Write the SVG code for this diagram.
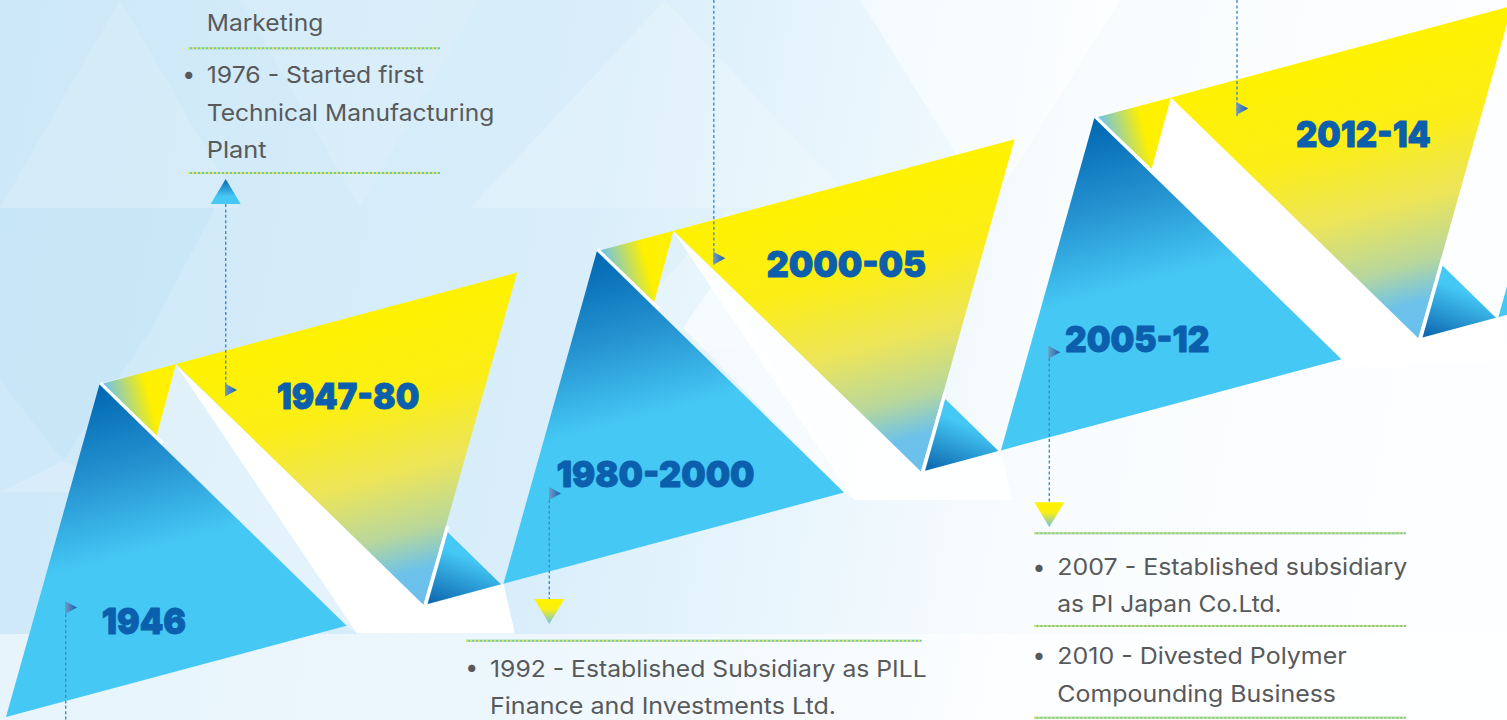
<svg xmlns="http://www.w3.org/2000/svg" width="1507" height="720" viewBox="0 0 1507 720">
<style>
.lbl{font-family:Inter,"Liberation Sans",sans-serif;font-weight:900;font-size:36px;fill:#0b5fad;stroke:#0b5fad;stroke-width:0.9;stroke-linejoin:round}
.txt{font-family:Inter,"Open Sans","Liberation Sans",sans-serif;font-size:23px;fill:#58595b}
.dash{stroke:#3b8bd2;stroke-width:1.4;stroke-dasharray:3 2.4;fill:none}
.dotb{stroke:#5ac4f0;stroke-width:2;fill:none}
.doty{stroke:#f6e61a;stroke-width:2;stroke-dasharray:2 2;fill:none}
.gap{stroke:#ffffff;stroke-width:3.4;fill:none}
.blue{fill:url(#gBlue)}
.yel{fill:url(#gYellow)}
.pp{fill:url(#gP)}
.ss{fill:url(#gS)}
.flag{fill:url(#gFlag)}
</style>
<defs>
  <linearGradient id="bg" x1="0" y1="0" x2="1507" y2="260" gradientUnits="userSpaceOnUse">
    <stop offset="0" stop-color="#cde8f8"/>
    <stop offset="0.4" stop-color="#d9eefa"/>
    <stop offset="0.6" stop-color="#ecf7fd"/>
    <stop offset="0.72" stop-color="#f9fcfe"/>
    <stop offset="1" stop-color="#fdfeff"/>
  </linearGradient>
  <linearGradient id="gBlue" x1="0" y1="0" x2="0" y2="1">
    <stop offset="0" stop-color="#0066b1"/>
    <stop offset="0.3" stop-color="#2592d0"/>
    <stop offset="0.58" stop-color="#45c8f4"/>
    <stop offset="1" stop-color="#45c8f4"/>
  </linearGradient>
  <linearGradient id="gYellow" x1="0" y1="0" x2="0" y2="1">
    <stop offset="0" stop-color="#fff200"/>
    <stop offset="0.3" stop-color="#fcee16"/>
    <stop offset="0.55" stop-color="#ece55a"/>
    <stop offset="0.75" stop-color="#b8d79c"/>
    <stop offset="0.88" stop-color="#6cc2ea"/>
    <stop offset="1" stop-color="#6ac0ec"/>
  </linearGradient>
  <linearGradient id="gP" x1="0" y1="0" x2="1" y2="0">
    <stop offset="0" stop-color="#6cc3ec"/>
    <stop offset="0.55" stop-color="#fff000"/>
    <stop offset="1" stop-color="#fff200"/>
  </linearGradient>
  <linearGradient id="gS" x1="0" y1="1" x2="0.55" y2="0.35">
    <stop offset="0" stop-color="#0a63ad"/>
    <stop offset="1" stop-color="#45c8f4"/>
  </linearGradient>
  <linearGradient id="gFlag" x1="0" y1="0" x2="1" y2="0">
    <stop offset="0" stop-color="#6f9cc8"/>
    <stop offset="1" stop-color="#1a5ea9"/>
  </linearGradient>
  <linearGradient id="gUp" x1="0" y1="0" x2="0" y2="1">
    <stop offset="0" stop-color="#0a66b1"/>
    <stop offset="0.7" stop-color="#45c8f4"/>
    <stop offset="1" stop-color="#45c8f4"/>
  </linearGradient>
  <linearGradient id="gDown" x1="0" y1="0" x2="0" y2="1">
    <stop offset="0" stop-color="#fff200"/>
    <stop offset="0.4" stop-color="#fbef10"/>
    <stop offset="1" stop-color="#6cc3ec"/>
  </linearGradient>
</defs>

<g id="background">
  <rect x="0" y="0" width="1507" height="720" fill="url(#bg)"/>
  <polygon points="0,208 240,208 120,0" fill="#ffffff" fill-opacity="0.12"/>
  <polygon points="240,0 480,0 360,208" fill="#ffffff" fill-opacity="0.1"/>
  <polygon points="0,208 215,208 152,328 63,461 0,380" fill="#bde1f6" fill-opacity="0.35"/>
  <polygon points="0,492 63,461 130,492" fill="#ffffff" fill-opacity="0.2"/>
  <polygon points="470,208 860,208 665,0" fill="#ffffff" fill-opacity="0.18"/>
  <polygon points="860,0 1120,0 990,208" fill="#ffffff" fill-opacity="0.5"/>
  <polygon points="600,350 860,350 730,208" fill="#ffffff" fill-opacity="0.22"/>
  <rect x="0" y="634" width="1507" height="86" fill="#ffffff" fill-opacity="0.5"/>
  <polygon points="100,383 176,365 357,633.5 346.7,626" fill="#ffffff" fill-opacity="0.35"/>
  <polygon points="176,365 357,633.5 515,633.5 503.5,583.7 426,605" fill="#ffffff"/>
  <polygon points="683,328 718,276.7 854.5,500 843,492" fill="#ffffff" fill-opacity="0.6"/>
  <polygon points="673.5,231.7 854.5,500 1012,500 1000.9,450.4 923.5,471.7" fill="#ffffff" fill-opacity="0.9"/>
  <g transform="translate(1000.9,450.42) rotate(-15)">
    <polygon fill="#ffffff" points="176.3,-297 255.6,-297 432.4,0 515,0 515,45 352.6,8 352.6,0"/>
  </g>
</g>

<g id="node-1946">
  <g transform="translate(6,717) rotate(-15)">
    <polygon class="blue" points="0,0 352.6,0 176.3,-297"/>
    <line class="gap" x1="178" y1="-298.5" x2="222" y2="-224"/>
  </g>
  <text class="lbl" x="101.7" y="634.3" textLength="84.3" lengthAdjust="spacingAndGlyphs">1946</text>
</g>

<g id="node-1947-80">
  <g transform="translate(6,717) rotate(-15)">
    <polygon class="pp" points="180,-297 255.6,-297 218.5,-233"/>
    <polygon class="yel" points="255.6,-297 608.8,-297 432.4,0"/>
    <line class="gap" x1="433.4" y1="1" x2="476" y2="-70"/>
    <polygon class="ss" points="436.5,0 512.5,0 474.5,-64"/>
  </g>
  <text class="lbl" x="276.7" y="409.3" textLength="142.6" lengthAdjust="spacingAndGlyphs">1947-80</text>
</g>

<g id="node-1980-2000">
  <g transform="translate(503.45,583.71) rotate(-15)">
    <polygon class="blue" points="0,0 352.6,0 176.3,-297"/>
    <line class="gap" x1="178" y1="-298.5" x2="222" y2="-224"/>
  </g>
  <text class="lbl" x="556.4" y="487.3" textLength="198.2" lengthAdjust="spacingAndGlyphs">1980-2000</text>
</g>

<g id="node-2000-05">
  <g transform="translate(503.45,583.71) rotate(-15)">
    <polygon class="pp" points="180,-297 255.6,-297 218.5,-233"/>
    <polygon class="yel" points="255.6,-297 608.8,-297 432.4,0"/>
    <line class="gap" x1="433.4" y1="1" x2="476" y2="-70"/>
    <polygon class="ss" points="436.5,0 512.5,0 474.5,-64"/>
  </g>
  <text class="lbl" x="766.4" y="276.7" textLength="159.7" lengthAdjust="spacingAndGlyphs">2000-05</text>
</g>

<g id="node-2005-12">
  <g transform="translate(1000.9,450.42) rotate(-15)">
    <polygon class="blue" points="0,0 352.6,0 176.3,-297"/>
    <line class="gap" x1="178" y1="-298.5" x2="222" y2="-224"/>
  </g>
  <text class="lbl" x="1065" y="352.3" textLength="144.3" lengthAdjust="spacingAndGlyphs">2005-12</text>
</g>

<g id="node-2012-14">
  <g transform="translate(1000.9,450.42) rotate(-15)">
    <polygon class="pp" points="180,-297 255.6,-297 218.5,-233"/>
    <polygon class="yel" points="255.6,-297 608.8,-297 432.4,0"/>
    <line class="gap" x1="433.4" y1="1" x2="476" y2="-70"/>
    <polygon class="ss" points="436.5,0 512.5,0 474.5,-64"/>
  </g>
  <text class="lbl" x="1296" y="146.7" textLength="134.7" lengthAdjust="spacingAndGlyphs">2012-14</text>
</g>

<g id="node-next">
  <g transform="translate(1498.35,317.13) rotate(-15)">
    <polygon class="blue" points="0,0 352.6,0 176.3,-297"/>
  </g>
</g>

<g id="connectors">
  <line class="dash" x1="65.7" y1="614" x2="65.7" y2="720"/>
  <line class="dash" x1="225.7" y1="204" x2="225.7" y2="397"/>
  <line class="dash" x1="549.3" y1="500" x2="549.3" y2="599"/>
  <line class="dash" x1="713.8" y1="0" x2="713.8" y2="265"/>
  <line class="dash" x1="1049.3" y1="358" x2="1049.3" y2="502"/>
  <line class="dash" x1="1237" y1="0" x2="1237" y2="116"/>
  <polygon class="flag" points="65,601 77,607.5 65,614"/>
  <polygon class="flag" points="225,383.5 237,390 225,396.5"/>
  <polygon class="flag" points="549,487 561,493.5 549,500"/>
  <polygon class="flag" points="713.3,251.7 725.3,258.2 713.3,264.7"/>
  <polygon class="flag" points="1048.3,345.7 1060.3,352.2 1048.3,358.7"/>
  <polygon class="flag" points="1236.3,102 1248.3,108.5 1236.3,115"/>
  <polygon fill="url(#gUp)" points="225.7,179 240.7,204 210.7,204"/>
  <polygon fill="url(#gDown)" points="534.3,599 564.3,599 549.3,624"/>
  <polygon fill="url(#gDown)" points="1034.3,502.3 1064.3,502.3 1049.3,527.3"/>
</g>

<g id="note-1947-80">
  <text class="txt" x="206.7" y="31" textLength="116.6" lengthAdjust="spacingAndGlyphs">Marketing</text>
  <line class="dotb" x1="188" y1="48.3" x2="440" y2="48.3"/>
  <line class="doty" x1="188" y1="48.3" x2="440" y2="48.3"/>
  <text class="txt" x="188.8" y="82" text-anchor="middle">•</text>
  <text class="txt" x="206.7" y="83.3" textLength="217.3" lengthAdjust="spacingAndGlyphs">1976 - Started first</text>
  <text class="txt" x="206.7" y="120.7" textLength="287.6" lengthAdjust="spacingAndGlyphs">Technical Manufacturing</text>
  <text class="txt" x="206.7" y="157.7" textLength="60" lengthAdjust="spacingAndGlyphs">Plant</text>
  <line class="dotb" x1="188" y1="173" x2="440" y2="173"/>
  <line class="doty" x1="188" y1="173" x2="440" y2="173"/>
</g>

<g id="note-1980-2000">
  <line class="dotb" x1="466" y1="640.7" x2="921.7" y2="640.7"/>
  <line class="doty" x1="466" y1="640.7" x2="921.7" y2="640.7"/>
  <text class="txt" x="471.7" y="675" text-anchor="middle">•</text>
  <text class="txt" x="490" y="676.7" textLength="436.7" lengthAdjust="spacingAndGlyphs">1992 - Established Subsidiary as PILL</text>
  <text class="txt" x="490" y="714" textLength="346" lengthAdjust="spacingAndGlyphs">Finance and Investments Ltd.</text>
</g>

<g id="note-2005-12">
  <line class="dotb" x1="1034.3" y1="533.3" x2="1406" y2="533.3"/>
  <line class="doty" x1="1034.3" y1="533.3" x2="1406" y2="533.3"/>
  <text class="txt" x="1039" y="574.5" text-anchor="middle">•</text>
  <text class="txt" x="1057.3" y="575" textLength="350" lengthAdjust="spacingAndGlyphs">2007 - Established subsidiary</text>
  <text class="txt" x="1057.3" y="611.7" textLength="224.4" lengthAdjust="spacingAndGlyphs">as PI Japan Co.Ltd.</text>
  <line class="dotb" x1="1034.3" y1="626" x2="1406" y2="626"/>
  <line class="doty" x1="1034.3" y1="626" x2="1406" y2="626"/>
  <text class="txt" x="1039" y="663.2" text-anchor="middle">•</text>
  <text class="txt" x="1057.3" y="664" textLength="289.4" lengthAdjust="spacingAndGlyphs">2010 - Divested Polymer</text>
  <text class="txt" x="1057.3" y="701.7" textLength="278.7" lengthAdjust="spacingAndGlyphs">Compounding Business</text>
  <line class="dotb" x1="1034.3" y1="717.7" x2="1406" y2="717.7"/>
  <line class="doty" x1="1034.3" y1="717.7" x2="1406" y2="717.7"/>
</g>
</svg>
